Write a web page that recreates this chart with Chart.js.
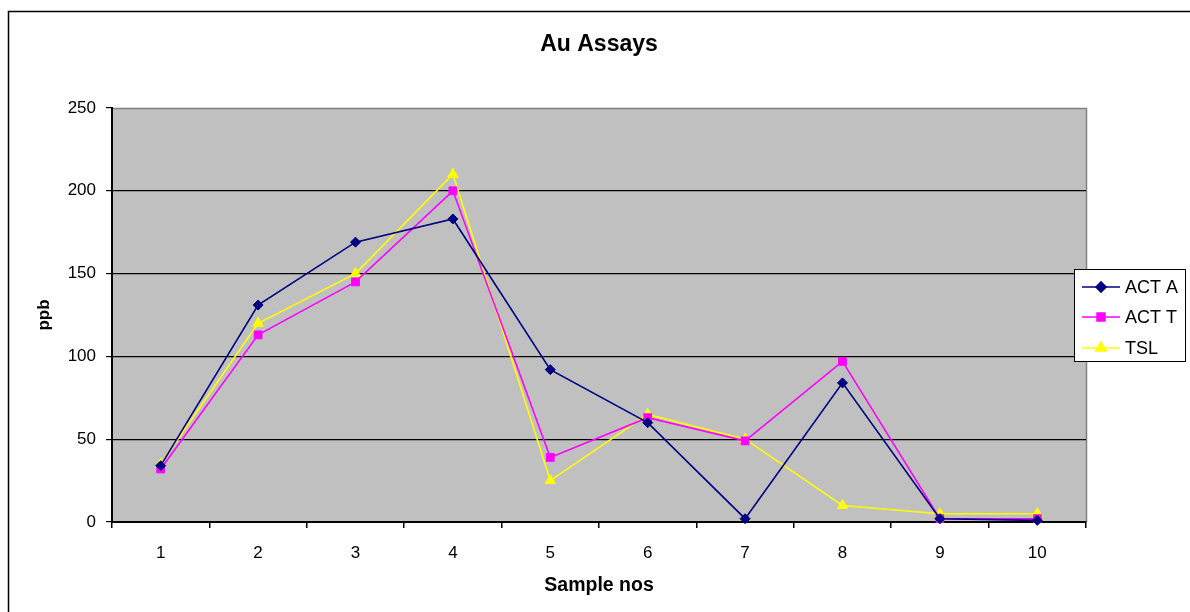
<!DOCTYPE html>
<html>
<head>
<meta charset="utf-8">
<title>Au Assays</title>
<script src="https://cdn.jsdelivr.net/npm/chart.js@4/dist/chart.umd.min.js"></script>
<style>
  html, body { margin: 0; padding: 0; background: #fff; }
  #wrap { width: 1190px; height: 612px; position: relative; }
  canvas { display: block; }
</style>
</head>
<body>
<div id="wrap"><canvas id="c" width="1190" height="612"></canvas></div>
<script>
// Sample numbers along the x axis
const samples = ['1', '2', '3', '4', '5', '6', '7', '8', '9', '10'];

// Gold assay results (ppb) by laboratory / method
const actA = [34, 131, 169, 183, 92, 60, 2, 84, 2, 1];
const actT = [32, 113, 145, 200, 39, 63, 49, 97, 2, 2];
const tsl  = [35, 120, 150, 210, 25, 65, 50, 10, 5, 5];

const seriesNames = ['ACT A', 'ACT T', 'TSL'];
const yTicks = [0, 50, 100, 150, 200, 250];

const chartTitle = 'Au Assays';
const xTitle = 'Sample nos';
const yTitle = 'ppb';

const FONT = '"Liberation Sans", Arial, Helvetica, sans-serif';

// Legend point marker drawn in a series' colours
function legendMarker(ctx, ds, x, y) {
  ctx.save();
  ctx.fillStyle = ds.backgroundColor;
  ctx.strokeStyle = ds.borderColor;
  Chart.helpers.drawPoint(ctx, {
    pointStyle: ds.pointStyle,
    radius: ds.pointRadius,
    rotation: 0,
    borderWidth: 1
  }, x, y);
  ctx.restore();
}

// Grey plot background, frame, outer border, titles and legend
const decor = {
  id: 'decor',
  beforeDraw(chart) {
    const { ctx, chartArea: a } = chart;
    ctx.save();
    ctx.fillStyle = '#ffffff';
    ctx.fillRect(0, 0, chart.width, chart.height);
    // outer chart border
    ctx.strokeStyle = '#000000';
    ctx.lineWidth = 1.5;
    ctx.strokeRect(8.5, 11.5, chart.width + 20, chart.height + 20);
    // plot area
    ctx.fillStyle = '#c0c0c0';
    ctx.fillRect(a.left, a.top, a.right - a.left, a.bottom - a.top);
    ctx.strokeStyle = '#808080';
    ctx.lineWidth = 1.5;
    ctx.beginPath();
    ctx.moveTo(a.left, a.top + 0.5);
    ctx.lineTo(a.right + 0.5, a.top + 0.5);
    ctx.lineTo(a.right + 0.5, a.bottom);
    ctx.stroke();
    ctx.restore();
  },
  afterDraw(chart) {
    const { ctx, chartArea: a } = chart;
    const cx = (a.left + a.right) / 2;
    ctx.save();
    ctx.fillStyle = '#000000';
    ctx.textAlign = 'center';
    ctx.textBaseline = 'middle';
    ctx.font = 'bold 23px ' + FONT;
    ctx.fillText(chartTitle, cx, 45);
    ctx.font = 'bold 19.5px ' + FONT;
    ctx.fillText(xTitle, cx, 586);
    ctx.save();
    ctx.translate(44, (a.top + a.bottom) / 2);
    ctx.rotate(-Math.PI / 2);
    ctx.font = 'bold 17px ' + FONT;
    ctx.fillText(yTitle, 0, 0);
    ctx.restore();

    // legend box
    const bx = 1074.5, by = 269.5, bw = 111, bh = 92;
    ctx.fillStyle = '#ffffff';
    ctx.fillRect(bx, by, bw, bh);
    ctx.strokeStyle = '#000000';
    ctx.lineWidth = 1;
    ctx.strokeRect(bx, by, bw, bh);
    const rows = [287, 317, 348];
    chart.data.datasets.forEach((ds, i) => {
      const y = rows[i];
      ctx.strokeStyle = ds.borderColor;
      ctx.lineWidth = ds.borderWidth;
      ctx.beginPath();
      ctx.moveTo(1082, y);
      ctx.lineTo(1120, y);
      ctx.stroke();
      legendMarker(ctx, ds, 1101, y);
      ctx.fillStyle = '#000000';
      ctx.font = '18px ' + FONT;
      ctx.textAlign = 'left';
      ctx.fillText(ds.label, 1125, y + 1);
    });
    ctx.restore();
  }
};

function series(label, data, color, style, radius) {
  return {
    label, data,
    borderColor: color,
    backgroundColor: color,
    pointBackgroundColor: color,
    pointBorderColor: color,
    pointStyle: style,
    pointRadius: radius,
    pointHoverRadius: radius,
    borderWidth: 1.6,
    pointBorderWidth: 1,
    tension: 0,
    clip: false
  };
}

const datasets = [
  series(seriesNames[0], actA, '#000080', 'rectRot', 5),
  series(seriesNames[1], actT, '#ff00ff', 'rect', 5.5),
  series(seriesNames[2], tsl,  '#ffff00', 'triangle', 6)
];

new Chart(document.getElementById('c'), {
  type: 'line',
  data: { labels: samples, datasets },
  options: {
    responsive: false,
    animation: false,
    devicePixelRatio: 1,
    events: [],
    layout: { padding: { top: 108, right: 104, left: 0, bottom: 0 } },
    plugins: {
      legend: { display: false },
      title: { display: false },
      tooltip: { enabled: false }
    },
    scales: {
      x: {
        type: 'category',
        offset: true,
        grid: {
          offset: true,
          drawOnChartArea: false,
          drawTicks: true,
          tickLength: 6,
          color: '#000000',
          tickColor: '#000000',
          lineWidth: 1.5
        },
        border: { display: true, color: '#000000', width: 2 },
        ticks: {
          color: '#000000',
          font: { family: FONT, size: 17 },
          padding: 15,
          maxRotation: 0,
          autoSkip: false
        },
        afterFit(scale) { scale.height = 90; }
      },
      y: {
        min: 0,
        max: 250,
        afterBuildTicks(scale) { scale.ticks = yTicks.map(v => ({ value: v })); },
        grid: {
          drawOnChartArea: true,
          drawTicks: true,
          tickLength: 6,
          color: (c) => (c.tick && (c.tick.value === 250 || c.tick.value === 0)) ? 'rgba(0,0,0,0)' : '#000000',
          tickColor: '#000000',
          lineWidth: 1.2
        },
        border: { display: true, color: '#000000', width: 2 },
        ticks: {
          color: '#000000',
          font: { family: FONT, size: 17 },
          padding: 10
        },
        afterFit(scale) { scale.width = 112; }
      }
    }
  },
  plugins: [decor]
});
</script>
</body>
</html>
